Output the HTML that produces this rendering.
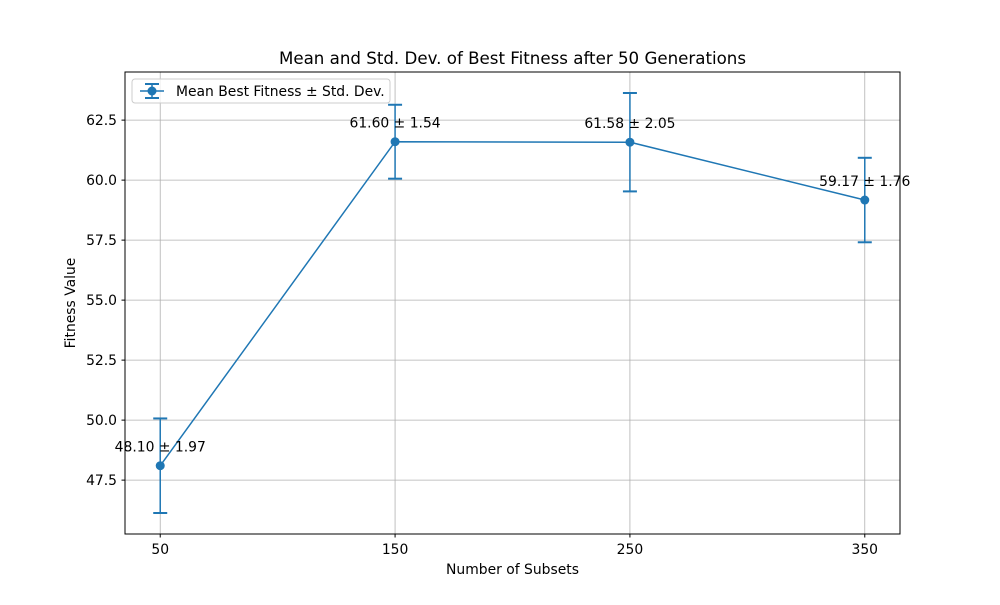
<!DOCTYPE html>
<html><head><meta charset="utf-8"><style>
body{margin:0;background:#fff;}
svg text{font-family:"DejaVu Sans","Liberation Sans",sans-serif;}
</style></head><body>
<svg id="chart" width="1000" height="600" xmlns="http://www.w3.org/2000/svg">
<rect width="1000" height="600" fill="#fff"/>
<text x="512.5" y="64" text-anchor="middle" font-size="16.67">Mean and Std. Dev. of Best Fitness after 50 Generations</text>
<g id="grid"></g>
<g id="marks"></g>
<rect x="125" y="72" width="775" height="462" fill="none" stroke="#000" stroke-width="1"/>
<g id="ticks"></g>
<text x="512.5" y="574" text-anchor="middle" font-size="13.9">Number of Subsets</text>
<text transform="translate(75,303) rotate(-90)" text-anchor="middle" font-size="13.9">Fitness Value</text>
<g>
<rect x="132" y="79" width="258" height="24" rx="3" fill="#fff" fill-opacity="0.8" stroke="#ccc"/>
<line x1="140" y1="91" x2="164" y2="91" stroke="#1f77b4" stroke-width="1.5"/>
<line x1="152" y1="84" x2="152" y2="98" stroke="#1f77b4" stroke-width="1.5"/>
<line x1="145" y1="84" x2="159" y2="84" stroke="#1f77b4" stroke-width="2"/>
<line x1="145" y1="98" x2="159" y2="98" stroke="#1f77b4" stroke-width="2"/>
<circle cx="152" cy="91" r="4.5" fill="#1f77b4"/>
<text x="176" y="96" font-size="13.9">Mean Best Fitness ± Std. Dev.</text>
</g>
</svg>
<script>
const categories=[50,150,250,350];
const means=[48.10,61.60,61.58,59.17];
const stds=[1.97,1.54,2.05,1.76];
const yTicks=[47.5,50.0,52.5,55.0,57.5,60.0,62.5];
const xTicks=[50,150,250,350];
const NS="http://www.w3.org/2000/svg";
const xs=v=>125+(v-35)*(775/330);
const ys=v=>534-(v-45.255)*(462/19.25);
function mk(t,a,p){const e=document.createElementNS(NS,t);for(const k in a)e.setAttribute(k,a[k]);p.appendChild(e);return e;}
const grid=document.getElementById('grid'),ticks=document.getElementById('ticks'),marks=document.getElementById('marks');
yTicks.forEach(v=>{const y=ys(v);
const g=mk('line',{x1:125,x2:900,y1:y,y2:y,stroke:'#b0b0b0','stroke-width':0.8},grid);


mk('line',{x1:121.5,x2:125,y1:y,y2:y,stroke:'#000'},ticks);
const t=mk('text',{x:117,y:y+5,'text-anchor':'end','font-size':13.9},ticks);t.textContent=v.toFixed(1);

});
xTicks.forEach(v=>{const x=xs(v);
const g=mk('line',{x1:x,x2:x,y1:72,y2:534,stroke:'#b0b0b0','stroke-width':0.8},grid);


mk('line',{x1:x,x2:x,y1:534,y2:537.5,stroke:'#000'},ticks);
const t=mk('text',{x:x,y:554,'text-anchor':'middle','font-size':13.9},ticks);t.textContent=v;

});
const pts=categories.map((c,i)=>xs(c)+','+ys(means[i])).join(' ');
const pl=mk('polyline',{points:pts,fill:'none',stroke:'#1f77b4','stroke-width':1.5},marks);


categories.forEach((c,i)=>{const x=xs(c),y=ys(means[i]),y1=ys(means[i]+stds[i]),y2=ys(means[i]-stds[i]);
const g=mk('g',{},marks);


mk('line',{x1:x,x2:x,y1:y1,y2:y2,stroke:'#1f77b4','stroke-width':1.5},g);
mk('line',{x1:x-7,x2:x+7,y1:y1,y2:y1,stroke:'#1f77b4','stroke-width':2},g);
mk('line',{x1:x-7,x2:x+7,y1:y2,y2:y2,stroke:'#1f77b4','stroke-width':2},g);
const p=mk('circle',{cx:x,cy:y,r:4.5,fill:'#1f77b4'},marks);


const t=mk('text',{x:x,y:y-14,'text-anchor':'middle','font-size':13.9},marks);
t.textContent=means[i].toFixed(2)+' ± '+stds[i].toFixed(2);

});
</script>
</body></html>
